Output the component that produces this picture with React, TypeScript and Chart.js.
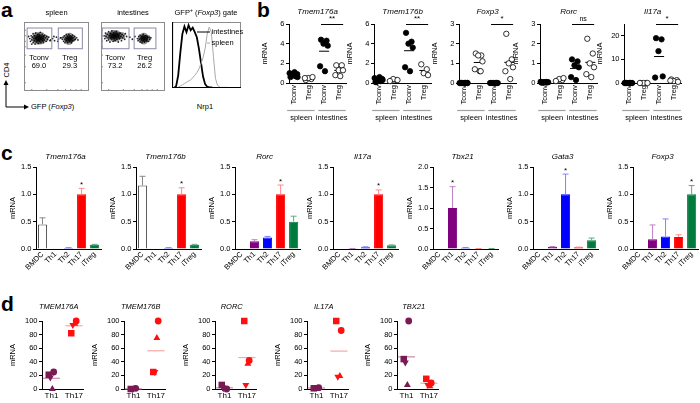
import React, { useEffect, useRef } from "react";
import { Chart, registerables } from "chart.js";

Chart.register(...registerables);

const FONT = "'Liberation Sans', Arial, Helvetica, sans-serif";
const FS = 7.5;

// ================= Panel a data =================
const flowTissues = ["spleen", "intestines"];
const flowGateNames = ["Tconv", "Treg"];
const flowPercents = [[69.0, 29.3], [73.2, 26.2]];
// gate rectangles [xMin, xMax, yMin, yMax] in GFP / CD4 units (0-100)
const spleenGates = [[4, 42, 62, 92], [52, 89, 62, 92]];
const intestineGates = [[1, 43, 62, 92], [51, 85, 62, 92]];
// events [GFP, CD4]
const spleenTconvEvents = [
  [9, 76], [10, 72], [11, 80], [12, 74], [13, 78], [14, 70], [14, 83], [15, 76], [16, 73], [16, 80],
  [17, 68], [18, 77], [18, 84], [19, 71], [19, 75], [20, 79], [21, 73], [21, 82], [22, 76], [22, 69],
  [23, 79], [23, 74], [24, 72], [24, 81], [25, 77], [25, 85], [26, 70], [26, 75], [27, 79], [28, 73],
  [28, 82], [29, 76], [30, 70], [30, 79], [31, 74], [32, 81], [33, 77], [34, 72], [35, 79], [36, 75],
  [38, 78], [40, 73], [7, 79], [12, 68],
];
const spleenTregEvents = [
  [59, 75], [60, 78], [61, 72], [62, 80], [63, 75], [63, 70], [64, 77], [65, 73], [65, 82], [66, 76],
  [67, 70], [67, 79], [68, 74], [69, 77], [69, 82], [70, 72], [71, 76], [71, 80], [72, 74], [73, 78],
  [73, 70], [74, 76], [75, 73], [75, 81], [76, 77], [77, 74], [78, 79], [79, 75], [81, 77], [83, 74],
  [57, 77],
];
const spleenBridgeEvents = [[44, 76], [47, 73], [50, 78], [53, 75], [56, 77], [41, 74], [46, 79], [52, 72]];
const spleenCoreEvents = [
  [17, 76], [22, 77], [27, 76], [32, 76], [20, 73], [25, 73], [20, 80], [26, 80],
  [66, 76], [70, 75], [74, 76], [70, 79], [69, 72],
];
const intestineTconvEvents = [
  [5, 80], [6, 76], [7, 84], [8, 79], [9, 73], [10, 82], [11, 77], [12, 86], [12, 74], [13, 80],
  [14, 71], [15, 83], [15, 77], [16, 79], [17, 75], [17, 87], [18, 81], [19, 72], [19, 78], [20, 84],
  [21, 76], [21, 80], [22, 73], [23, 82], [23, 78], [24, 86], [25, 75], [25, 80], [26, 83], [27, 71],
  [27, 78], [28, 81], [29, 76], [30, 84], [31, 79], [32, 73], [33, 82], [34, 77], [35, 80], [37, 75],
  [38, 83], [40, 79],
];
const intestineTregEvents = [
  [57, 76], [58, 73], [59, 79], [60, 75], [61, 71], [61, 81], [62, 77], [63, 74], [64, 79], [64, 70],
  [65, 76], [66, 73], [66, 82], [67, 78], [68, 75], [68, 71], [69, 80], [70, 77], [71, 73], [72, 79],
  [72, 75], [73, 77], [74, 72], [75, 78], [76, 75], [78, 77],
];
const intestineBridgeEvents = [[45, 78], [49, 75], [53, 79]];
const intestineCoreEvents = [
  [12, 80], [17, 80], [22, 80], [27, 80], [32, 80], [19, 77], [24, 77], [19, 83], [24, 83],
  [64, 76], [68, 76], [72, 76], [67, 79], [67, 73],
];
// Nrp1 histogram (GFP+ gate), % of max
const nrp1Bins = [0, 3, 6, 9, 12, 15, 18, 21, 24, 27, 30, 33, 36, 39, 42, 45, 48, 51, 54, 57, 60, 63, 66, 70, 80, 90, 100];
const nrp1Intestines = [0, 0, 3, 20, 55, 85, 97, 88, 99, 91, 95, 88, 80, 62, 40, 18, 6, 2, 1, 1, 0, 0, 0, 0, 0, 0, 0];
const nrp1Spleen = [0, 0, 0, 1, 3, 5, 7, 9, 11, 13, 16, 20, 24, 30, 38, 48, 62, 85, 96, 88, 50, 15, 4, 1, 1, 0, 0];

// ================= Panel b data =================
const bGenes = ["Tmem176a", "Tmem176b", "Foxp3", "Rorc", "Il17a"];
const bGroupLabels = ["Tconv", "Treg", "Tconv", "Treg"];
const bTissueLabels = ["spleen", "intestines"];
const bYMax = [6, 6, 3, 3, 25];
const bYStep = [2, 2, 1, 1, 5];
const bSignif = ["**", "**", "*", "ns", "*"];
const bTmem176a = [
  [0.6, 0.7, 0.8, 0.9, 1.0, 1.1, 0.7, 0.8, 0.6, 0.9],
  [0.3, 0.4, 0.5, 0.6, 0.5],
  [4.4, 4.3, 4.0, 3.8, 1.7, 1.2],
  [1.8, 1.8, 1.3, 1.3, 0.8, 0.7],
];
const bTmem176b = [
  [0.1, 0.2, 0.3, 0.4, 0.5, 0.6, 0.2, 0.1, 0.3],
  [0.2, 0.3, 0.4, 0.3, 0.2],
  [5.1, 4.2, 4.0, 3.6, 1.6, 1.2],
  [1.9, 1.4, 1.0, 0.8],
];
const bFoxp3 = [
  [0, 0, 0, 0, 0, 0, 0, 0, 0, 0],
  [1.5, 1.4, 1.4, 1.1, 0.7, 0.6, 0.6],
  [0, 0, 0, 0, 0, 0, 0, 0],
  [2.5, 1.2, 1.0, 0.8, 0.6, 0.2],
];
const bRorc = [
  [0.02, 0.03, 0.05, 0.04, 0.06, 0.03, 0.05, 0.02],
  [0.1, 0.15, 0.2, 0.25, 0.1],
  [1.2, 1.1, 0.9, 0.8, 0.3, 0.15],
  [2.25, 1.5, 1.0, 0.8, 0.45, 0.3],
];
const bIl17a = [
  [0, 0, 0, 0, 0, 0, 0, 0],
  [0, 0, 0, 0, 0],
  [19, 18.5, 13.5, 2.8, 2.3],
  [1.5, 1.2, 0.8, 0.5, 1.0],
];
const bValues = [bTmem176a, bTmem176b, bFoxp3, bRorc, bIl17a];

// ================= Panel c data =================
const cCells = ["BMDC", "Th1", "Th2", "Th17", "iTreg"];
const cGenes = ["Tmem176a", "Tmem176b", "Rorc", "Il17a", "Tbx21", "Gata3", "Foxp3"];
const cYMax = [1.5, 1.5, 1.5, 1.5, 2.0, 1.5, 1.5];
const cMeans = [
  [0.45, 0, 0.02, 1.0, 0.08],
  [1.16, 0, 0.02, 1.0, 0.08],
  [0, 0.14, 0.21, 1.0, 0.5],
  [0, 0.005, 0.03, 1.0, 0.07],
  [0, 1.0, 0.03, 0.01, 0.01],
  [0, 0.04, 1.0, 0.03, 0.16],
  [0, 0.18, 0.23, 0.22, 1.0],
];
const cSems = [
  [0.12, 0, 0.005, 0.11, 0.005],
  [0.17, 0, 0.005, 0.12, 0.005],
  [0, 0.03, 0.02, 0.17, 0.1],
  [0, 0.003, 0.01, 0.08, 0.005],
  [0, 0.52, 0.008, 0.003, 0.003],
  [0, 0.006, 0.37, 0.005, 0.04],
  [0, 0.26, 0.32, 0.04, 0.16],
];
const cStarCell = ["Th17", "Th17", "Th17", "Th17", "Th1", "Th2", "iTreg"];

// ================= Panel d data =================
const dGenes = ["TMEM176A", "TMEM176B", "RORC", "IL17A", "TBX21"];
const dGroups = ["Th1", "Th17"];
const dDonorMarkers = ["circle", "square", "triangle", "triangleDown"];
const dTh1 = [
  [25, 21, 0, 17],
  [1, 0, 0, 0],
  [0, 6, 0, 1],
  [2, 1, 0, 3],
  [100, 44, 6, 39],
];
const dTh17 = [
  [100, 82, 96, 94],
  [100, 25, 75, 25],
  [42, 100, 37, 6],
  [86, 100, 19, 18],
  [9, 15, 4, 6],
];

// ================= styling =================
const cFill = ["#ffffff", "#800080", "#0000ff", "#ff0000", "#007a3d"];
const cBorder = ["#444444", "#800080", "#0000ff", "#ff0000", "#007a3d"];
const cErrColor = ["#888888", "#c080c8", "#8080ff", "#ff8a8a", "#60a880"];
const dColors = ["#7a1a55", "#ff1010"];
const dMeanColors = ["#c98aa8", "#f7a8a8"];
const JIT = [-0.2, 0.16, -0.04, 0.24, -0.26, 0.06, 0.12, -0.14, 0.26, -0.1, 0.0, 0.2];

function fontStr(o: any = {}) {
  return `${o.italic ? "italic " : ""}${o.bold ? "bold " : ""}${o.size || FS}px ${FONT}`;
}

function txt(ctx: any, s: string, x: number, y: number, o: any = {}) {
  ctx.save();
  ctx.font = fontStr(o);
  ctx.fillStyle = o.color || "#000";
  ctx.textAlign = o.align || "center";
  ctx.textBaseline = o.baseline || "middle";
  ctx.fillText(s, x, y);
  ctx.restore();
}

// draws a run of differently styled pieces centred on x
function richTxt(ctx: any, parts: any[], cx: number, y: number) {
  ctx.save();
  ctx.textBaseline = "middle";
  ctx.textAlign = "left";
  const widths = parts.map((p) => {
    ctx.font = fontStr(p);
    return ctx.measureText(p.t).width;
  });
  let x = cx - widths.reduce((s, w) => s + w, 0) / 2;
  parts.forEach((p, k) => {
    ctx.font = fontStr(p);
    ctx.fillStyle = "#000";
    ctx.fillText(p.t, x, y + (p.dy || 0));
    x += widths[k];
  });
  ctx.restore();
}

function seg(ctx: any, x0: number, y0: number, x1: number, y1: number, color: string, w = 1) {
  ctx.save();
  ctx.strokeStyle = color;
  ctx.lineWidth = w;
  ctx.beginPath();
  ctx.moveTo(x0, y0);
  ctx.lineTo(x1, y1);
  ctx.stroke();
  ctx.restore();
}

const mean = (a: number[]) => a.reduce((s, v) => s + v, 0) / a.length;

function baseOpts(padding: any) {
  return {
    responsive: false,
    maintainAspectRatio: false,
    animation: false,
    events: [],
    devicePixelRatio: 1,
    layout: { padding },
    plugins: { legend: { display: false }, tooltip: { enabled: false }, title: { display: false } },
  };
}

function yAxis(max: number, step: number, width: number, titlePad: number, decimals: number) {
  return {
    type: "linear",
    min: 0,
    max,
    ticks: {
      stepSize: step,
      font: { family: FONT, size: FS },
      color: "#000",
      padding: 1.5,
      callback: (v: number) => (decimals ? Number(v).toFixed(decimals) : String(v)),
    },
    grid: { drawOnChartArea: false, drawTicks: true, tickLength: 3, color: "#000", lineWidth: 1 },
    border: { display: true, color: "#000", width: 1 },
    title: {
      display: true,
      text: "mRNA",
      font: { family: FONT, size: FS },
      color: "#000",
      padding: { top: titlePad, bottom: 0 },
    },
    afterFit: (s: any) => {
      s.width = width;
    },
  };
}

function indexX(labels: string[], min: number, max: number, height: number, rotation: number, size: number) {
  return {
    type: "linear",
    min,
    max,
    afterBuildTicks: (s: any) => {
      s.ticks = labels.map((_l, i) => ({ value: i }));
    },
    ticks: {
      callback: (_v: any, i: number) => labels[i],
      font: { family: FONT, size },
      color: "#000",
      minRotation: rotation,
      maxRotation: rotation,
      padding: 2,
      autoSkip: false,
    },
    grid: { display: false, drawTicks: false },
    border: { display: true, color: "#000", width: 1 },
    afterFit: (s: any) => {
      s.height = height;
    },
  };
}

// ---------- a: flow dot plots ----------
function makeFlow(t: number) {
  const gates = t === 0 ? spleenGates : intestineGates;
  const sets =
    t === 0
      ? [spleenTconvEvents, spleenTregEvents, spleenBridgeEvents]
      : [intestineTconvEvents, intestineTregEvents, intestineBridgeEvents];
  const cores = t === 0 ? spleenCoreEvents : intestineCoreEvents;
  const pts = (a: number[][]) => a.map(([x, y]) => ({ x, y }));
  return {
    type: "scatter",
    data: {
      datasets: [
        { data: pts(cores), pointRadius: 3.8, backgroundColor: "rgba(0,0,0,0.42)", borderWidth: 0 },
        ...sets.map((s) => ({ data: pts(s), pointRadius: 0.9, backgroundColor: "rgba(0,0,0,0.85)", borderWidth: 0 })),
      ],
    },
    options: {
      ...baseOpts({ left: 0, top: 18, right: 0, bottom: 0 }),
      scales: {
        x: { type: "linear", min: 0, max: 100, display: false },
        y: { type: "linear", min: 0, max: 100, display: false },
      },
    },
    plugins: [
      {
        id: "flowDeco",
        afterDraw(chart: any) {
          const { ctx, chartArea: a, scales } = chart;
          const X = (v: number) => scales.x.getPixelForValue(v);
          const Y = (v: number) => scales.y.getPixelForValue(v);
          ctx.save();
          ctx.strokeStyle = "#8c8c8c";
          ctx.lineWidth = 1;
          ctx.strokeRect(a.left + 0.5, a.top + 0.5, a.width - 1, a.height - 1);
          ctx.restore();
          [12, 35, 52, 64, 72, 80, 88].forEach((v) => {
            seg(ctx, X(v), a.bottom, X(v), a.bottom - 2, "#8c8c8c");
            seg(ctx, a.left, Y(v), a.left + 2, Y(v), "#8c8c8c");
          });
          gates.forEach((g, k) => {
            ctx.save();
            ctx.strokeStyle = "#8a8aa6";
            ctx.lineWidth = 1;
            ctx.strokeRect(X(g[0]) + 0.5, Y(g[3]) + 0.5, X(g[1]) - X(g[0]), Y(g[2]) - Y(g[3]));
            ctx.restore();
            const cx = (X(g[0]) + X(g[1])) / 2;
            txt(ctx, flowGateNames[k], cx, Y(g[2]) + 10, { size: 7.5 });
            txt(ctx, flowPercents[t][k].toFixed(1), cx, Y(g[2]) + 18, { size: 7.5 });
          });
          txt(ctx, flowTissues[t], (a.left + a.right) / 2, a.top - 9, { size: 7.5 });
        },
      },
    ],
  };
}

// ---------- a: histogram ----------
function makeHist() {
  return {
    type: "line",
    data: {
      datasets: [
        {
          data: nrp1Bins.map((x, i) => ({ x, y: nrp1Spleen[i] })),
          borderColor: "#a8a8a8",
          borderWidth: 1,
          pointRadius: 0,
          tension: 0,
        },
        {
          data: nrp1Bins.map((x, i) => ({ x, y: nrp1Intestines[i] })),
          borderColor: "#000",
          borderWidth: 1.8,
          pointRadius: 0,
          tension: 0,
        },
      ],
    },
    options: {
      ...baseOpts({ left: 0, top: 18, right: 12, bottom: 0 }),
      scales: {
        x: { type: "linear", min: 0, max: 100, display: false },
        y: { type: "linear", min: 0, max: 104, display: false },
      },
    },
    plugins: [
      {
        id: "histDeco",
        afterDraw(chart: any) {
          const { ctx, chartArea: a } = chart;
          ctx.save();
          ctx.strokeStyle = "#8c8c8c";
          ctx.lineWidth = 1;
          ctx.strokeRect(a.left + 0.5, a.top + 0.5, a.width - 1, a.height - 1);
          ctx.restore();
          seg(ctx, a.left + 0.5, a.top, a.left + 0.5, a.bottom, "#000", 1.2);
          seg(ctx, a.left, a.bottom - 0.5, a.right, a.bottom - 0.5, "#000", 1.2);
          seg(ctx, a.left + 25, a.top + 10, a.left + 38, a.top + 10, "#000", 1);
          seg(ctx, a.left + 35, a.top + 21, a.left + 38, a.top + 21, "#a8a8a8", 1);
          txt(ctx, "intestines", a.left + 39.5, a.top + 10, { align: "left" });
          txt(ctx, "spleen", a.left + 39.5, a.top + 21, { align: "left" });
          richTxt(
            ctx,
            [
              { t: "GFP" },
              { t: "+", size: 5, dy: -2 },
              { t: " (" },
              { t: "Foxp3", italic: true },
              { t: ") gate" },
            ],
            a.left + 34,
            a.top - 9
          );
        },
      },
    ],
  };
}

// ---------- b: dot plots ----------
function makeDotPlot(i: number) {
  const groups = bValues[i];
  const datasets = groups.map((vals, g) => ({
    data: vals.map((v, k) => ({ x: g + JIT[k % JIT.length], y: v })),
    pointRadius: 2.7,
    pointBackgroundColor: g % 2 === 0 ? "#000" : "#fff",
    pointBorderColor: "#000",
    pointBorderWidth: 0.8,
    clip: false,
  }));
  return {
    type: "scatter",
    data: { datasets },
    options: {
      ...baseOpts({ left: 0, top: 24, right: 2, bottom: 15 }),
      scales: {
        x: indexX(bGroupLabels, -0.3, 3.45, 26, 90, FS),
        y: yAxis(bYMax[i], bYStep[i], 30, 1, 0),
      },
    },
    plugins: [
      {
        id: "dotDeco",
        beforeDatasetsDraw(chart: any) {
          const { ctx, scales } = chart;
          groups.forEach((vals, g) => {
            const yy = scales.y.getPixelForValue(mean(vals));
            seg(ctx, scales.x.getPixelForValue(g - 0.33), yy, scales.x.getPixelForValue(g + 0.33), yy, "#000", 1);
          });
        },
        afterDraw(chart: any) {
          const { ctx, scales, chartArea: a } = chart;
          const X = (v: number) => scales.x.getPixelForValue(v);
          txt(ctx, bGenes[i], (a.left + a.right) / 2, a.top - 12, { italic: true, size: 8 });
          const by = scales.y.getPixelForValue(bYMax[i]) + 0.5;
          seg(ctx, X(1.8), by, X(3.25), by, "#000", 1);
          txt(ctx, bSignif[i], (X(1.8) + X(3.25)) / 2, by - 2, { baseline: "bottom", size: bSignif[i] === "ns" ? 7 : 8 });
          const gy = a.bottom + 27.5;
          seg(ctx, X(-0.42), gy, X(1.38), gy, "#a0a0a0", 1.2);
          seg(ctx, X(1.62), gy, X(3.42), gy, "#a0a0a0", 1.2);
          txt(ctx, bTissueLabels[0], X(0.5), gy + 7.5);
          txt(ctx, bTissueLabels[1], X(2.5), gy + 7.5);
        },
      },
    ],
  };
}

// ---------- c: bar charts ----------
function makeBars(i: number) {
  const vals = cMeans[i];
  const errs = cSems[i];
  return {
    type: "bar",
    data: {
      labels: cCells,
      datasets: [
        {
          data: vals,
          backgroundColor: cFill,
          borderColor: cBorder,
          borderWidth: 1,
          barPercentage: 0.7,
          categoryPercentage: 1,
        },
      ],
    },
    options: {
      ...baseOpts({ left: 0, top: 22, right: 0, bottom: 0 }),
      scales: {
        x: {
          type: "category",
          offset: true,
          ticks: { font: { family: FONT, size: FS }, color: "#000", minRotation: 45, maxRotation: 45, padding: 1, autoSkip: false },
          grid: { display: false, drawTicks: false },
          border: { display: true, color: "#000", width: 1 },
          afterFit: (s: any) => {
            s.height = 31;
          },
        },
        y: yAxis(cYMax[i], 0.5, 34, 6, 1),
      },
    },
    plugins: [
      {
        id: "barDeco",
        afterDatasetsDraw(chart: any) {
          const { ctx, scales, chartArea: a } = chart;
          const meta = chart.getDatasetMeta(0);
          meta.data.forEach((bar: any, k: number) => {
            const top = scales.y.getPixelForValue(vals[k] + errs[k]);
            if (errs[k] > 0) {
              const y0 = scales.y.getPixelForValue(vals[k]);
              seg(ctx, bar.x, y0, bar.x, top, cErrColor[k], 1);
              seg(ctx, bar.x - 3, top, bar.x + 3, top, cErrColor[k], 1);
            }
            if (cCells[k] === cStarCell[i]) txt(ctx, "*", bar.x, top - 1.5, { baseline: "alphabetic", size: 8 });
          });
          txt(ctx, cGenes[i], (a.left + a.right) / 2 - 3, a.top - 10, { italic: true, size: 8 });
        },
      },
    ],
  };
}

// ---------- d: human dot plots ----------
function markerStyle(m: string) {
  if (m === "square") return { s: "rect", r: 0 };
  if (m === "triangle") return { s: "triangle", r: 0 };
  if (m === "triangleDown") return { s: "triangle", r: 180 };
  return { s: "circle", r: 0 };
}
const dOffsets = [0.1, -0.12, 0.04, -0.05];

function makeHuman(i: number) {
  const series = [dTh1[i], dTh17[i]];
  const datasets = series.map((vals, g) => ({
    data: vals.map((v, k) => ({ x: g + dOffsets[k], y: v })),
    pointStyle: dDonorMarkers.map((m) => markerStyle(m).s),
    rotation: dDonorMarkers.map((m) => markerStyle(m).r),
    pointRadius: dDonorMarkers.map((m) => (m === "square" ? 4.6 : m === "circle" ? 3.4 : 4)),
    backgroundColor: dColors[g],
    borderColor: dColors[g],
    borderWidth: 0,
    clip: false,
  }));
  return {
    type: "scatter",
    data: { datasets },
    options: {
      ...baseOpts({ left: 0, top: 25, right: 2, bottom: 0 }),
      scales: {
        x: indexX(dGroups, -0.42, 1.42, 14, 0, 8),
        y: yAxis(100, 20, 36, 2, 0),
      },
    },
    plugins: [
      {
        id: "humanDeco",
        beforeDatasetsDraw(chart: any) {
          const { ctx, scales } = chart;
          series.forEach((vals, g) => {
            const yy = scales.y.getPixelForValue(mean(vals));
            seg(ctx, scales.x.getPixelForValue(g - 0.38), yy, scales.x.getPixelForValue(g + 0.38), yy, dMeanColors[g], 1.2);
          });
        },
        afterDraw(chart: any) {
          const { ctx, chartArea: a } = chart;
          txt(ctx, dGenes[i], (a.left + a.right) / 2 - 4, a.top - 14, { italic: true, size: 7.5 });
        },
      },
    ],
  };
}

function ChartBox({ left, top, width, height, make }: any) {
  const ref = useRef<HTMLCanvasElement>(null);
  useEffect(() => {
    const chart = new Chart(ref.current as any, make());
    return () => chart.destroy();
  }, []);
  return (
    <canvas
      ref={ref}
      width={width}
      height={height}
      style={{ position: "absolute", left, top, width, height, display: "block" }}
    />
  );
}

function Label({ x, y, children, size = FS, bold = false, italic = false, rotate = 0, align = "center" }: any) {
  const tx = align === "center" ? "-50%" : align === "right" ? "-100%" : "0";
  return (
    <div
      style={{
        position: "absolute",
        left: x,
        top: y,
        transform: `translate(${tx}, -50%) rotate(${rotate}deg)`,
        fontSize: size,
        fontWeight: bold ? "bold" : "normal",
        fontStyle: italic ? "italic" : "normal",
        fontFamily: FONT,
        lineHeight: 1,
        whiteSpace: "nowrap",
        color: "#000",
      }}
    >
      {children}
    </div>
  );
}

const bAxes = [289, 374, 459, 540, 624];
const cAxes = [36, 136, 235, 333, 433, 533, 633];
const dAxes = [42, 124, 215, 307, 397];

export default function App() {
  return (
    <div
      style={{
        position: "fixed",
        left: 0,
        top: 0,
        width: 700,
        height: 403,
        background: "#fff",
        overflow: "hidden",
        fontFamily: FONT,
      }}
    >
      {/* panel letters */}
      <Label x={1} y={9} size={21} bold align="left">a</Label>
      <Label x={257} y={9} size={21} bold align="left">b</Label>
      <Label x={1} y={152} size={21} bold align="left">c</Label>
      <Label x={1} y={303} size={21} bold align="left">d</Label>

      {/* panel a */}
      <Label x={7} y={70} rotate={-90}>CD4</Label>
      <svg style={{ position: "absolute", left: 0, top: 78, width: 34, height: 34 }} width={34} height={34}>
        <polyline points="6,6 6,29 25,29" fill="none" stroke="#000" strokeWidth={1} />
        <polygon points="6,2 3.5,7 8.5,7" fill="#000" />
        <polygon points="29,29 24,26.5 24,31.5" fill="#000" />
      </svg>
      <Label x={31} y={107} align="left">
        GFP (<i>Foxp3</i>)
      </Label>
      <Label x={205} y={107}>Nrp1</Label>
      <ChartBox left={20} top={4} width={73} height={91} make={() => makeFlow(0)} />
      <ChartBox left={97} top={4} width={72} height={91} make={() => makeFlow(1)} />
      <ChartBox left={172} top={4} width={81} height={84} make={makeHist} />

      {/* panel b */}
      {bAxes.map((ax, i) => (
        <ChartBox key={"b" + i} left={ax - 30} top={0} width={92} height={124} make={() => makeDotPlot(i)} />
      ))}

      {/* panel c */}
      {cAxes.map((ax, i) => (
        <ChartBox key={"c" + i} left={ax - 34} top={145} width={100} height={135} make={() => makeBars(i)} />
      ))}

      {/* panel d */}
      {dAxes.map((ax, i) => (
        <ChartBox key={"d" + i} left={ax - 36} top={296} width={82} height={107} make={() => makeHuman(i)} />
      ))}
    </div>
  );
}
